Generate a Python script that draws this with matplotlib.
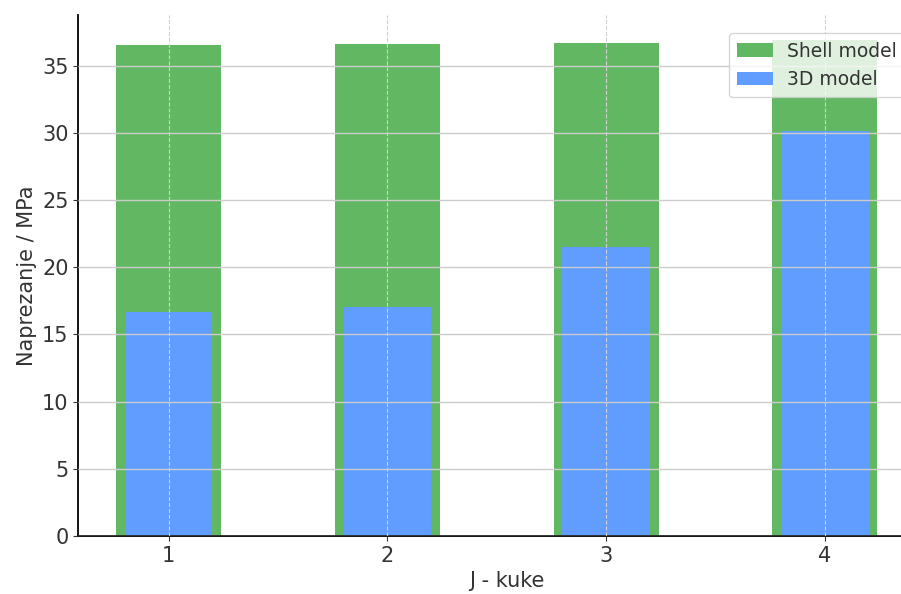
import numpy as np
import matplotlib.pyplot as plt

kuke = [1, 2, 3, 4]
shell = [36.55, 36.6, 36.7, 36.9]
model3d = [16.65, 17.05, 21.5, 30.15]

fig = plt.figure(figsize=(9.01, 5.94), dpi=100)
ax = fig.add_axes([0.087, 0.098, 0.95, 0.877])

ax.bar(kuke, shell, width=0.48, color='#62b862', label='Shell model', zorder=2)
ax.bar(kuke, model3d, width=0.4, color='#619dff', label='3D model', zorder=2)

ax.set_xlim(0.588, 4.5)
ax.set_ylim(0, 38.8)
ax.set_xticks(kuke)
ax.set_xticklabels([str(k) for k in kuke])
ax.tick_params(labelsize=15, colors='#333333', labelcolor='#333333')
ax.yaxis.grid(True, color='#cccccc', linewidth=1, zorder=3)
ax.xaxis.grid(True, color='#d0d0d0', linewidth=0.8, linestyle='--', zorder=3)
ax.set_axisbelow(False)
for s in ['top', 'right']:
    ax.spines[s].set_visible(False)
ax.spines['left'].set_linewidth(1.3)
ax.spines['bottom'].set_linewidth(1.3)

ax.set_xlabel('J - kuke', fontsize=15, color='#333333')
ax.set_ylabel('Naprezanje / MPa', fontsize=15, color='#333333')

ax.legend(loc='upper left', bbox_to_anchor=(0.749, 0.983), fontsize=13.5,
          framealpha=0.8, edgecolor='#cccccc', labelcolor='#333333',
          handlelength=1.9, handletextpad=0.75, borderpad=0.45)

fig.savefig('out.png', dpi=100)
